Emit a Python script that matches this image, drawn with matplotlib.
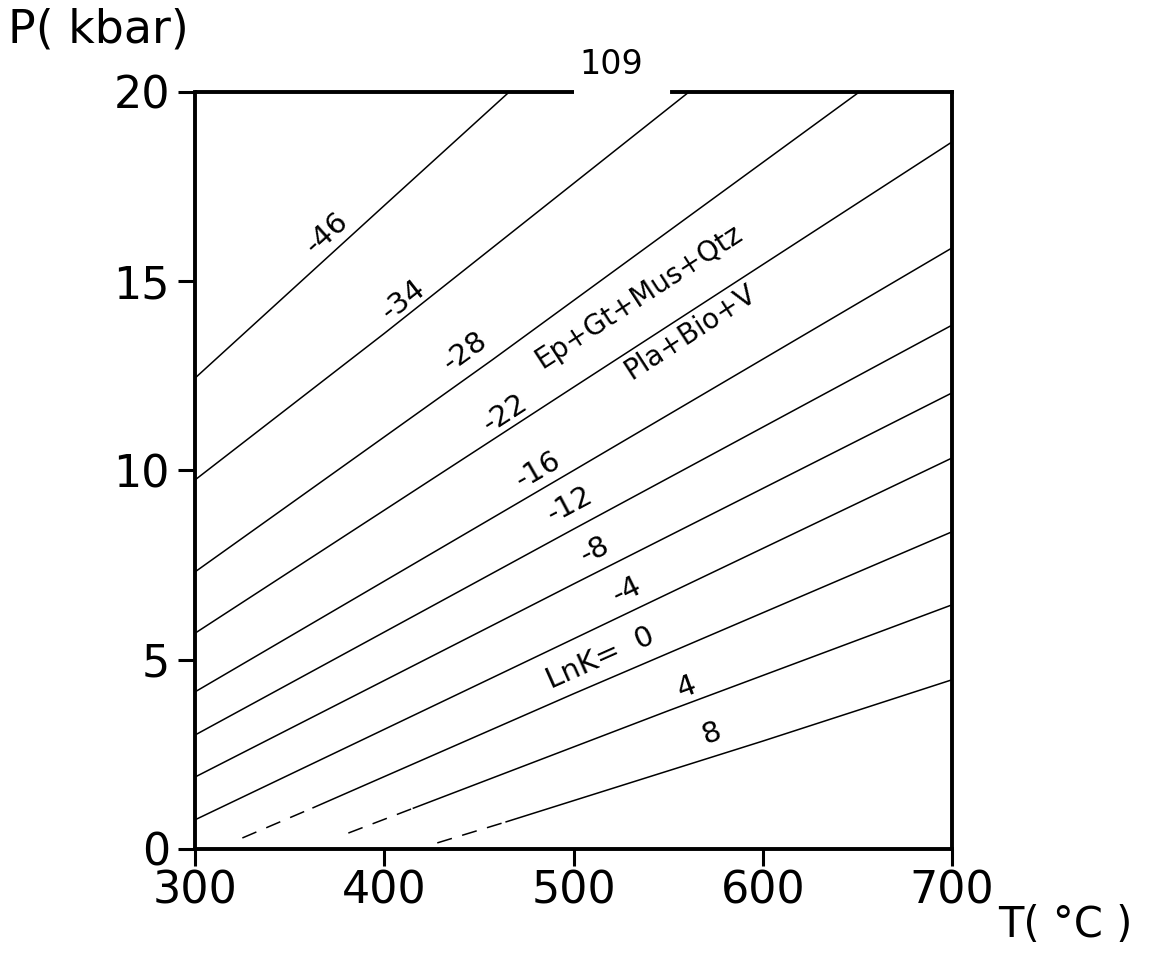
import matplotlib
matplotlib.use("Agg")
import matplotlib.pyplot as plt

# isopleths of LnK: (T, P) points
lnk_values = [-46, -34, -28, -22, -16, -12, -8, -4, 0, 4, 8]
solid_T = [
    [300, 400, 466],
    [300, 400, 561],
    [300, 457, 651],
    [300, 500, 700],
    [300, 500, 700],
    [300, 500, 700],
    [300, 500, 700],
    [300, 500, 700],
    [362, 500, 700],
    [415, 550, 700],
    [464, 600, 700],
]
solid_P = [
    [12.44, 17.0, 20.0],
    [9.75, 13.62, 20.0],
    [7.32, 12.92, 20.0],
    [5.70, 12.2, 18.68],
    [4.15, 10.0, 15.88],
    [3.01, 8.45, 13.84],
    [1.90, 7.0, 12.05],
    [0.77, 5.55, 10.33],
    [1.08, 4.1, 8.38],
    [1.07, 3.65, 6.45],
    [0.71, 2.85, 4.47],
]
# extrapolated (dashed) low-pressure parts of LnK = 0, 4, 8
dashed_T = [[325, 362], [381, 415], [428, 464]]
dashed_P = [[0.29, 1.08], [0.42, 1.07], [0.16, 0.71]]

# label text, position (T, P) and angle
label_text = ["-46", "-34", "-28", "-22", "-16", "-12", "-8", "-4", "LnK=  0", "4", "8"]
label_T = [369.6, 410.0, 442.7, 463.8, 481.4, 498.2, 511.4, 528.1, 514.0, 559.8, 573.0]
label_P = [16.27, 14.5, 13.13, 11.51, 10.01, 9.09, 7.90, 6.84, 5.05, 4.28, 3.05]
label_rot = [42, 38, 36, 33, 30, 28, 27, 26, 24, 20, 20]

x_ticks = [300, 400, 500, 600, 700]
y_ticks = [0, 5, 10, 15, 20]

fig = plt.figure(figsize=(11.54, 9.57), dpi=100)
ax = fig.add_axes([0.169, 0.1129, 0.656, 0.791])

lw = 1.1
for T, P in zip(solid_T, solid_P):
    ax.plot(T, P, color="black", lw=lw, solid_capstyle="butt")
for T, P in zip(dashed_T, dashed_P):
    ax.plot(T, P, color="black", lw=lw, dashes=(10, 7))

for txt, t, p, r in zip(label_text, label_T, label_P, label_rot):
    ax.text(t, p, txt, rotation=r, fontsize=21, ha="center", va="center",
            rotation_mode="anchor")

ax.text(534.5, 14.6, "Ep+Gt+Mus+Qtz", rotation=33, fontsize=20,
        ha="center", va="center", rotation_mode="anchor")
ax.text(561.6, 13.65, "Pla+Bio+V", rotation=33, fontsize=20,
        ha="center", va="center", rotation_mode="anchor")

ax.set_xlim(300, 700)
ax.set_ylim(0, 20)
ax.set_xticks(x_ticks)
ax.set_yticks(y_ticks)
ax.tick_params(direction="out", length=12, width=2.2, labelsize=32)
ax.tick_params(axis="x", pad=3)
ax.tick_params(axis="y", pad=6)

for side in ["left", "bottom", "right"]:
    ax.spines[side].set_linewidth(2.8)
ax.spines["top"].set_visible(False)
# top frame line is broken around the page number
ax.plot([300, 500], [20, 20], color="black", lw=2.8, clip_on=False, solid_capstyle="butt")
ax.plot([552, 700], [20, 20], color="black", lw=2.8, clip_on=False, solid_capstyle="projecting")
ax.text(520, 20.3, "109", fontsize=24, ha="center", va="bottom")

fig.text(0.007, 0.992, "P( kbar)", fontsize=33, ha="left", va="top")
fig.text(0.865, 0.012, "T( °C )", fontsize=30, ha="left", va="bottom")

fig.savefig("out.png", dpi=100)
